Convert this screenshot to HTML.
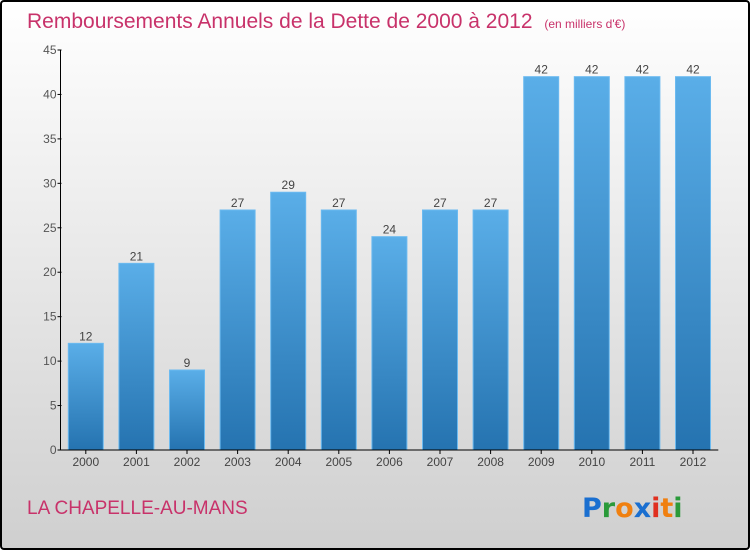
<!DOCTYPE html>
<html><head><meta charset="utf-8"><style>
body{margin:0;width:750px;height:550px;overflow:hidden;font-family:"Liberation Sans",sans-serif}
</style></head><body>
<svg id="chart" width="750" height="550" xmlns="http://www.w3.org/2000/svg">
<defs>
<linearGradient id="bg" x1="0" y1="0" x2="0" y2="1"><stop offset="0" stop-color="#ffffff"/><stop offset="1" stop-color="#cfcfcf"/></linearGradient>
<linearGradient id="bar" x1="0" y1="0" x2="0" y2="1"><stop offset="0" stop-color="#5aaee8"/><stop offset="1" stop-color="#2573b0"/></linearGradient>
</defs>
<rect x="1" y="1" width="748" height="548" rx="3" fill="url(#bg)" stroke="#000" stroke-width="2"/>
<text x="27" y="28" font-size="21" fill="#c8326a" font-weight="300">Remboursements Annuels de la Dette de 2000 à 2012 <tspan font-size="12" dx="6">(en milliers d'€)</tspan></text>
<g id="yaxis"></g>
<g id="bars"></g>
<g id="xaxis"></g>
<text x="27" y="514" font-size="19" fill="#c8326a">LA CHAPELLE-AU-MANS</text>
<g font-size="27" font-weight="bold" font-family="'DejaVu Sans',sans-serif">
<text x="582" y="517"><tspan fill="#1a6fd0">P</tspan><tspan fill="#2a9a3a">r</tspan><tspan fill="#f08010">o</tspan><tspan fill="#1a6fd0">x</tspan><tspan fill="#e03020">i</tspan><tspan fill="#f08010">t</tspan><tspan fill="#2a9a3a">i</tspan></text>
</g>
</svg>
<script>
const categories=["2000","2001","2002","2003","2004","2005","2006","2007","2008","2009","2010","2011","2012"];
const values=[12,21,9,27,29,27,24,27,27,42,42,42,42];
const yTicks=[0,5,10,15,20,25,30,35,40,45];
const NS="http://www.w3.org/2000/svg";
const left=60.5,bandW=50.6,plotTop=50,bottom=450,yMax=45,barW=35;
const y=v=>bottom-(v/yMax)*(bottom-plotTop);
const xc=i=>left+bandW*(i+0.5);
function mk(tag,attrs,parent){const e=document.createElementNS(NS,tag);for(const k in attrs)e.setAttribute(k,attrs[k]);parent.appendChild(e);return e;}
const ya=document.getElementById('yaxis'),ba=document.getElementById('bars'),xa=document.getElementById('xaxis');
const yl=mk('line',{x1:left,y1:plotTop,x2:left,y2:bottom,stroke:'#000','stroke-width':1},ya);


yTicks.forEach(t=>{
 const tk=mk('line',{x1:left-3,y1:y(t),x2:left+1,y2:y(t),stroke:'#000'},ya);
 
 
 const tx=mk('text',{x:left-4,y:y(t)+4,'text-anchor':'end','font-size':12,fill:'#555'},ya);
 tx.textContent=t;
 
 
});
const xl=mk('line',{x1:left,y1:bottom,x2:left+bandW*categories.length,y2:bottom,stroke:'#000','stroke-width':1},xa);


categories.forEach((c,i)=>{
 const r=mk('rect',{x:xc(i)-barW/2,y:y(values[i]),width:barW,height:bottom-y(values[i]),fill:'url(#bar)',stroke:'#6bbaf0','stroke-width':1},ba);
 
 
 const v=mk('text',{x:xc(i),y:y(values[i])-3,'text-anchor':'middle','font-size':12,fill:'#444'},ba);
 v.textContent=values[i];
 
 
 const tk=mk('line',{x1:xc(i),y1:bottom,x2:xc(i),y2:bottom+4,stroke:'#000'},xa);
 
 
 const tx=mk('text',{x:xc(i),y:bottom+16,'text-anchor':'middle','font-size':12,fill:'#444'},xa);
 tx.textContent=c;
 
 
});
</script>
</body></html>
